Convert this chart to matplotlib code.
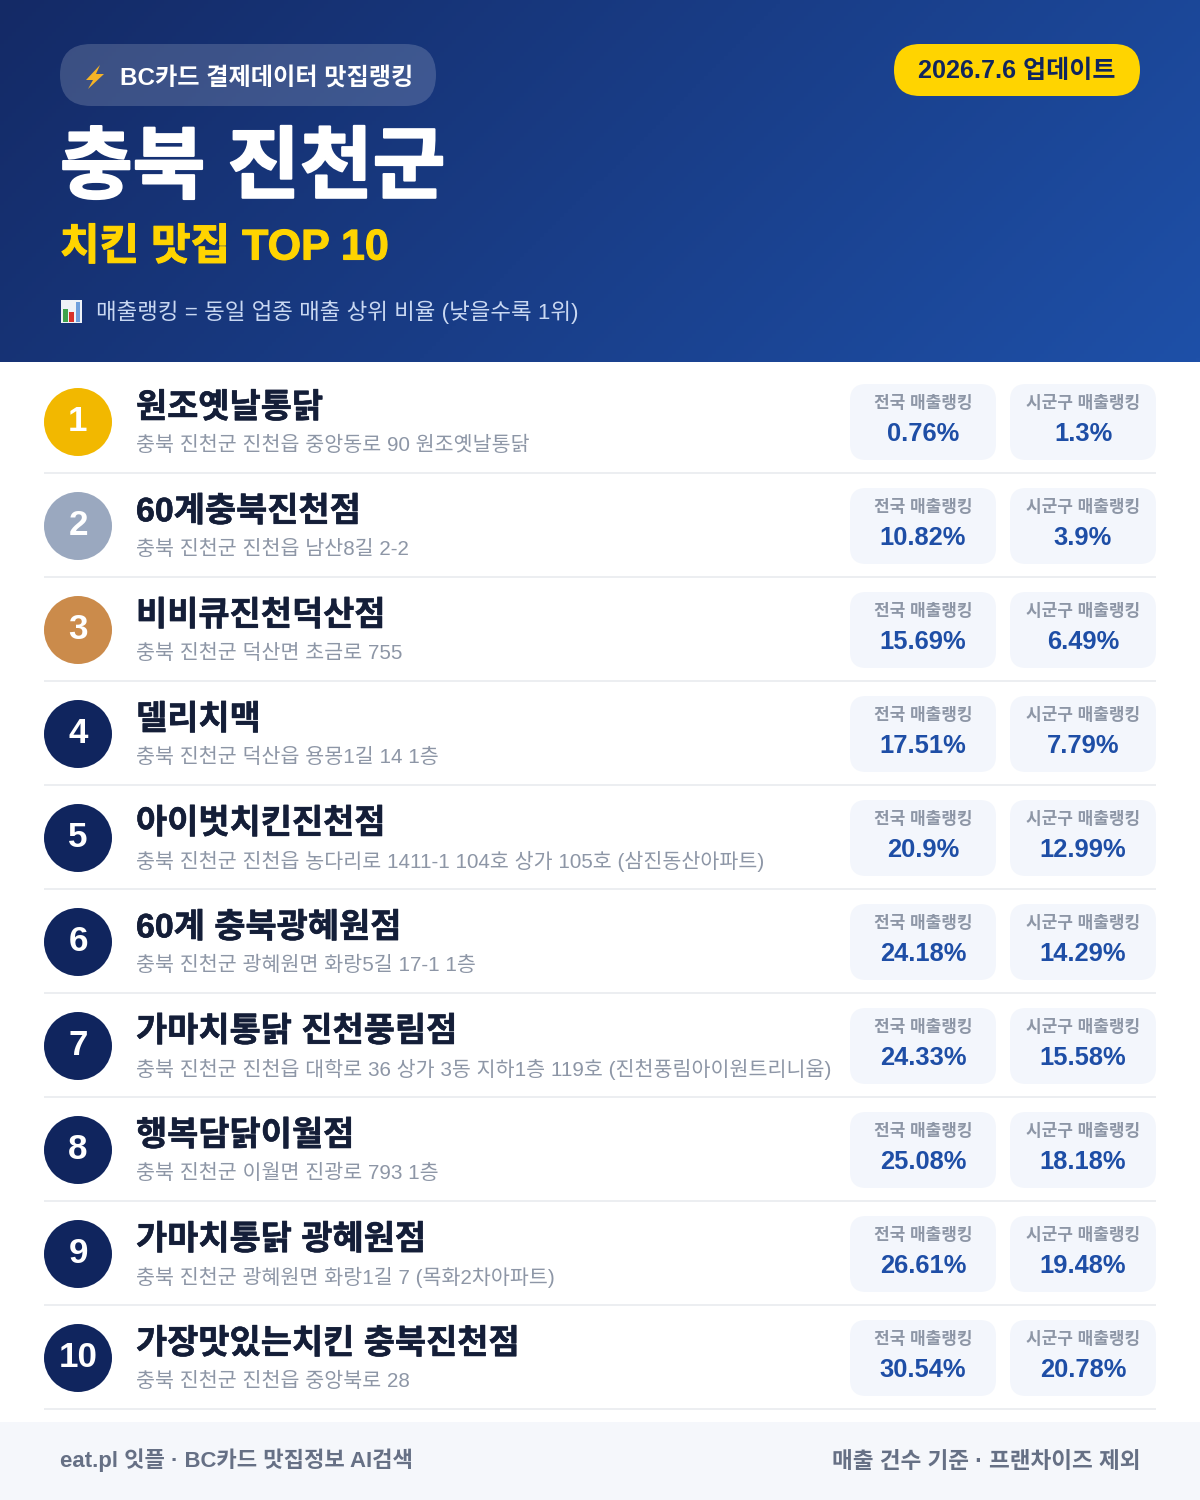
import numpy as np
import matplotlib
matplotlib.use("Agg")
import matplotlib.pyplot as plt
import matplotlib.patheffects as pe
from matplotlib.patches import FancyBboxPatch, Circle, Rectangle, Polygon

fams = ['Liberation Sans', 'Noto Sans CJK KR', 'DejaVu Sans']
plt.rcParams['font.family'] = fams

names = ["원조옛날통닭", "60계충북진천점", "비비큐진천덕산점", "델리치맥", "아이벗치킨진천점",
         "60계 충북광혜원점", "가마치통닭 진천풍림점", "행복담닭이월점", "가마치통닭 광혜원점",
         "가장맛있는치킨 충북진천점"]
addresses = ["충북 진천군 진천읍 중앙동로 90 원조옛날통닭",
             "충북 진천군 진천읍 남산8길 2-2",
             "충북 진천군 덕산면 초금로 755",
             "충북 진천군 덕산읍 용몽1길 14 1층",
             "충북 진천군 진천읍 농다리로 1411-1 104호 상가 105호 (삼진동산아파트)",
             "충북 진천군 광혜원면 화랑5길 17-1 1층",
             "충북 진천군 진천읍 대학로 36 상가 3동 지하1층 119호 (진천풍림아이원트리니움)",
             "충북 진천군 이월면 진광로 793 1층",
             "충북 진천군 광혜원면 화랑1길 7 (목화2차아파트)",
             "충북 진천군 진천읍 중앙북로 28"]
national = ["0.76%", "10.82%", "15.69%", "17.51%", "20.9%", "24.18%", "24.33%", "25.08%", "26.61%", "30.54%"]
local = ["1.3%", "3.9%", "6.49%", "7.79%", "12.99%", "14.29%", "15.58%", "18.18%", "19.48%", "20.78%"]
badge_colors = ["#f2b800", "#9aa8bf", "#cb8b4b"] + ["#10255e"] * 7

fig = plt.figure(figsize=(12, 15), dpi=100)
ax = fig.add_axes([0, 0, 1, 1])
ax.set_xlim(0, 1200)
ax.set_ylim(1500, 0)
ax.axis("off")


def txt(x, y, s, px, color, weight="normal", ha="left", heavy=0):
    t = ax.text(x, y, s, fontsize=px * 0.72, color=color, fontweight=weight,
                ha=ha, va="center_baseline")
    # only regular and bold cuts here, thicken the heavy titles a little
    if heavy:
        t.set_path_effects([pe.withStroke(linewidth=heavy, foreground=color)])
    return t


def rbox(x0, y0, x1, y1, r, color, alpha=1.0):
    ax.add_patch(FancyBboxPatch((x0 + r, y0 + r), x1 - x0 - 2 * r, y1 - y0 - 2 * r,
                                boxstyle="round,pad=%g,rounding_size=%g" % (r, r),
                                fc=color, ec="none", alpha=alpha))


# header gradient
gx, gy = np.meshgrid(np.linspace(0, 1, 300), np.linspace(0, 1, 90))
t = np.clip(gx * 0.77 + gy * 0.23, 0, 1)[..., None]
c0 = np.array([0x14, 0x2a, 0x66]) / 255
c1 = np.array([0x1e, 0x50, 0xa8]) / 255
ax.imshow(c0 + (c1 - c0) * t, extent=(0, 1200, 362, 0), aspect="auto", zorder=0)
ax.set_xlim(0, 1200)
ax.set_ylim(1500, 0)

# header
rbox(60, 44, 436, 106, 31, "#ffffff", alpha=0.17)
ax.add_patch(Polygon([(100, 65), (86, 80), (93, 80), (88, 89), (104, 74), (96, 74)], fc="#f6b426", ec="none"))
txt(120, 76, "BC카드 결제데이터 맛집랭킹", 24.2, "white", "bold")
rbox(894, 44, 1140, 96, 26, "#ffd400")
txt(1017, 68, "2026.7.6 업데이트", 25.1, "#10255e", "bold", ha="center")
txt(60, 163, "충북 진천군", 79, "white", "bold", heavy=1.5)
txt(60, 244, "치킨 맛집 TOP 10", 43, "#ffd400", "bold", heavy=0.8)
ax.add_patch(Rectangle((61, 300), 21, 23, fc="#eef2f7", ec="none"))
ax.add_patch(Rectangle((63, 309), 5, 13, fc="#3fa34d", ec="none"))
ax.add_patch(Rectangle((69, 312), 5, 10, fc="#d8322a", ec="none"))
ax.add_patch(Rectangle((76, 302), 4, 20, fc="#6fa0dc", ec="none"))
txt(96, 310, "매출랭킹 = 동일 업종 매출 상위 비율 (낮을수록 1위)", 22.4, "#c9d8f2")

# rows
for i in range(10):
    top = 370 + 104 * i
    ax.add_patch(Circle((78, top + 52), 34, fc=badge_colors[i], ec="none"))
    txt(78, top + 48, str(i + 1), 35, "white", "bold", ha="center")
    txt(136, top + 35, names[i], 33.9, "#141e38", "bold", heavy=0.4)
    txt(136, top + 73, addresses[i], 20.6, "#8d96a6")
    for x0, label, vals in [(850, "전국 매출랭킹", national), (1010, "시군구 매출랭킹", local)]:
        rbox(x0, top + 14, x0 + 146, top + 90, 16, "#f3f6fc")
        txt(x0 + 73, top + 31, label, 17, "#8d96a6", "bold", ha="center")
        txt(x0 + 73, top + 61.5, vals[i], 25.5, "#1e4ea6", "bold", ha="center")
    ax.add_patch(Rectangle((44, top + 102), 1112, 2, fc="#eceef1", ec="none"))

# footer
ax.add_patch(Rectangle((0, 1422), 1200, 78, fc="#f5f7fb", ec="none"))
txt(60, 1457.5, "eat.pl 잇플 · BC카드 맛집정보 AI검색", 22.2, "#667085", "bold")
txt(1140, 1459, "매출 건수 기준 · 프랜차이즈 제외", 22.6, "#667085", "bold", ha="right")

fig.savefig("out.png", dpi=100)
